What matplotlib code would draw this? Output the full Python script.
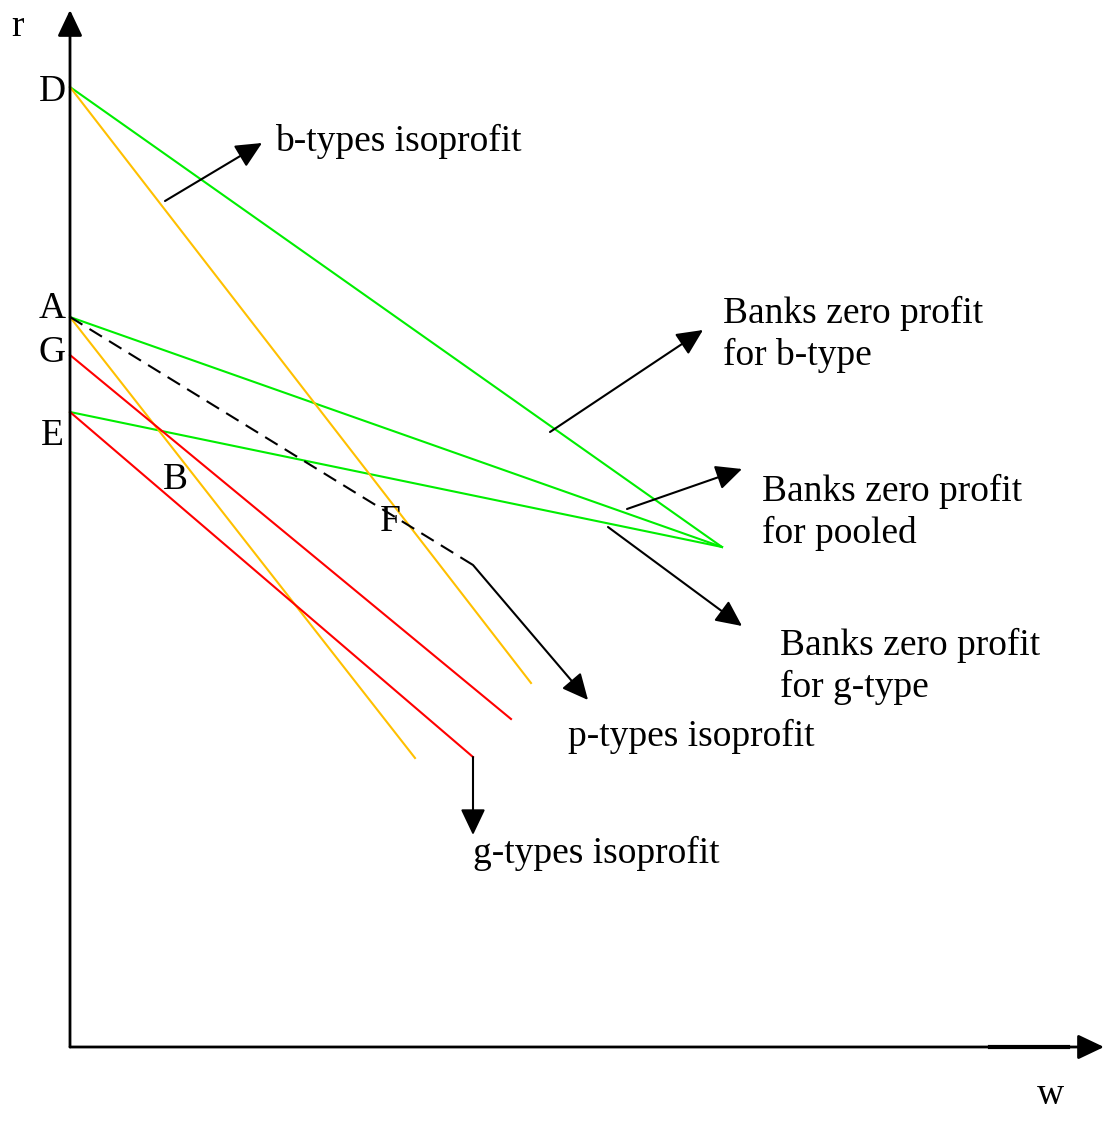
import numpy as np
import matplotlib.pyplot as plt

# diagram coordinates: w to the right, r upward, origin at the axes corner
point_names = ["D", "A", "G", "E"]
point_label_r = [955, 738, 694, 611]

# coloured curves: (start w, start r, end w, end r)
green_lines = [(0, 960, 652, 500), (0, 730, 652, 500), (0, 635, 652, 500)]
yellow_lines = [(0, 960, 461, 364), (0, 730, 345, 289)]
red_lines = [(0, 692, 441, 328), (0, 635, 403, 290)]
dashed_line = (0, 730, 403, 482)

# label arrows: (from w, from r, to w, to r)
arrows = [(95, 846, 192, 904), (480, 615, 633, 717), (557, 538, 672, 578),
          (538, 520, 672, 421), (403, 482, 518, 347), (403, 290, 403, 212)]

labels = ["b-types isoprofit", "Banks zero profit\nfor b-type",
          "Banks zero profit\nfor pooled", "Banks zero profit\nfor g-type",
          "p-types isoprofit", "g-types isoprofit"]
label_w = [205, 653, 692, 710, 498, 403]
label_r = [906, 713, 535, 381, 311, 194]

plt.rcParams['font.family'] = ['Liberation Serif', 'DejaVu Serif']

fig = plt.figure(figsize=(11.04, 11.37), dpi=100)
ax = fig.add_axes([0, 0, 1, 1])
ax.set_xlim(-70, 1034)
ax.set_ylim(-90, 1047)
ax.axis("off")

head = dict(arrowstyle="-|>,head_length=0.8,head_width=0.38", mutation_scale=20,
            color="black", lw=1.5, shrinkA=0, shrinkB=0)

# axes
ax.annotate("", xy=(0, 1037), xytext=(0, 0), arrowprops=dict(head, lw=2))
ax.annotate("", xy=(1034, 0), xytext=(0, 0), arrowprops=dict(head, lw=2))
ax.plot([920, 998], [0, 0], color="black", lw=3)

for w0, r0, w1, r1 in green_lines:
    ax.plot([w0, w1], [r0, r1], color="#00ee00", lw=1.5)
for w0, r0, w1, r1 in yellow_lines:
    ax.plot([w0, w1], [r0, r1], color="#ffc000", lw=1.5)
for w0, r0, w1, r1 in red_lines:
    ax.plot([w0, w1], [r0, r1], color="#ff0000", lw=1.5)
w0, r0, w1, r1 = dashed_line
ax.plot([w0, w1], [r0, r1], color="black", lw=1.5, linestyle=(0, (7, 4)))

for w0, r0, w1, r1 in arrows:
    ax.annotate("", xy=(w1, r1), xytext=(w0, r0), arrowprops=head)

fs = 27
for name, r in zip(point_names, point_label_r):
    ax.text(-18, r, name, fontsize=fs, ha="center", va="center")
ax.text(-52, 1020, "r", fontsize=fs, ha="center", va="center")
ax.text(105, 567, "B", fontsize=fs, ha="center", va="center")
ax.text(320, 525, "F", fontsize=fs, ha="center", va="center")
ax.text(980, -48, "w", fontsize=fs, ha="center", va="center")

for txt, w, r in zip(labels, label_w, label_r):
    ax.text(w, r, txt, fontsize=fs, ha="left", va="center", linespacing=1.25)

fig.savefig("out.png", dpi=100)
